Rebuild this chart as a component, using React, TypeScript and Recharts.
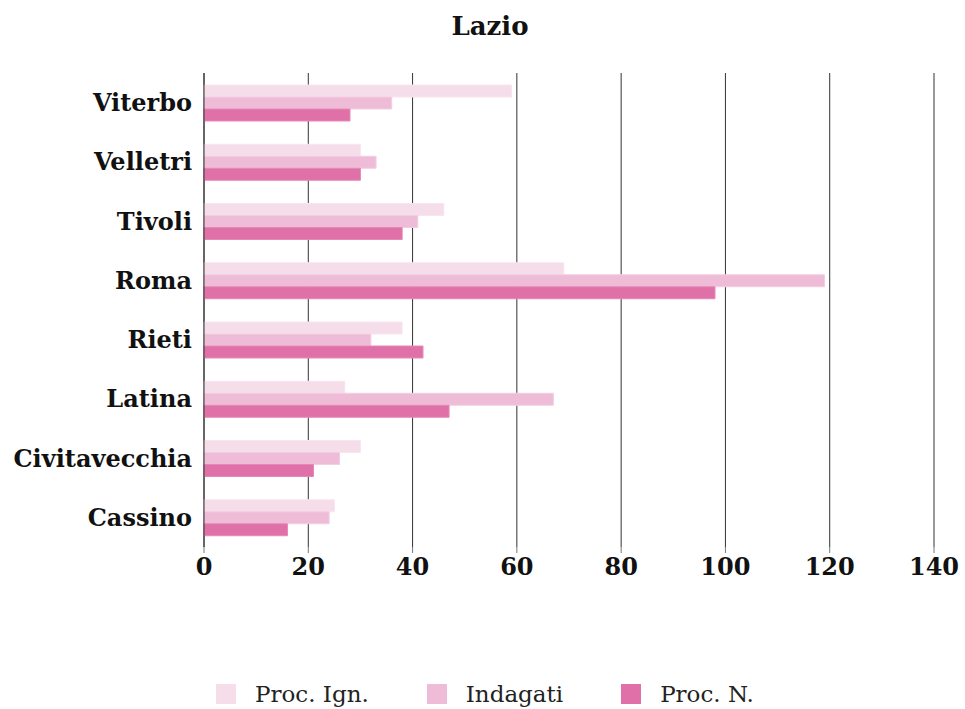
import React from "react";
import {
  BarChart,
  Bar,
  XAxis,
  YAxis,
  CartesianGrid,
  Legend,
} from "recharts";

const cities = [
  "Viterbo",
  "Velletri",
  "Tivoli",
  "Roma",
  "Rieti",
  "Latina",
  "Civitavecchia",
  "Cassino",
];
const procIgn = [59, 30, 46, 69, 38, 27, 30, 25];
const indagati = [36, 33, 41, 119, 32, 67, 26, 24];
const procN = [28, 30, 38, 98, 42, 47, 21, 16];
const xTicks = [0, 20, 40, 60, 80, 100, 120, 140];

const seriesNames = ["Proc. Ign.", "Indagati", "Proc. N."];
const seriesColors = ["#f5dde9", "#efbcd8", "#df70a8"];

const data = cities.map((name, i) => ({
  name,
  procIgn: procIgn[i],
  indagati: indagati[i],
  procN: procN[i],
}));

const FONT = "'DejaVu Serif', serif";

function LegendBox() {
  return (
    <div
      style={{
        display: "flex",
        justifyContent: "flex-start",
        paddingLeft: 212,
        height: 30,
        alignItems: "center",
        fontFamily: FONT,
        fontSize: 23,
        color: "#222",
      }}
    >
      {seriesNames.map((n, i) => (
        <div
          key={n}
          style={{ display: "flex", alignItems: "center", marginRight: 58 }}
        >
          <span
            style={{
              display: "inline-block",
              width: 20,
              height: 20,
              background: seriesColors[i],
              marginRight: 19,
            }}
          />
          <span>{n}</span>
        </div>
      ))}
    </div>
  );
}

export default function App() {
  return (
    <div
      style={{
        position: "absolute",
        top: 0,
        left: 0,
        width: 965,
        height: 709,
        background: "#fff",
        fontFamily: FONT,
      }}
    >
      <div
        style={{
          position: "absolute",
          top: 11,
          left: 0,
          width: 980,
          textAlign: "center",
          fontWeight: "bold",
          fontSize: 26,
          color: "#111",
        }}
      >
        Lazio
      </div>
      <BarChart
        width={965}
        height={709}
        data={data}
        layout="vertical"
        margin={{ top: 73, right: 31, left: 4, bottom: 0 }}
        barGap={0}
        barSize={12}
      >
        <CartesianGrid horizontal={false} stroke="#333" strokeWidth={1} />
        <XAxis
          type="number"
          domain={[0, 140]}
          ticks={xTicks}
          axisLine={false}
          tickLine={{ stroke: "#777" }}
          tickSize={6}
          height={132}
          tick={{
            fontFamily: FONT,
            fontWeight: "bold",
            fontSize: 24,
            fill: "#111",
            dy: 3,
          }}
        />
        <YAxis
          type="category"
          dataKey="name"
          width={200}
          axisLine={{ stroke: "#333" }}
          tickLine={false}
          tick={{
            fontFamily: FONT,
            fontWeight: "bold",
            fontSize: 24,
            fill: "#111",
            dx: -4,
          }}
        />
        <Legend
          verticalAlign="bottom"
          height={30}
          content={() => <LegendBox />}
        />
        <Bar
          dataKey="procIgn"
          name={seriesNames[0]}
          fill={seriesColors[0]}
          stroke="#f8e6ef"
          isAnimationActive={false}
        />
        <Bar
          dataKey="indagati"
          name={seriesNames[1]}
          fill={seriesColors[1]}
          stroke="#f3cde2"
          isAnimationActive={false}
        />
        <Bar
          dataKey="procN"
          name={seriesNames[2]}
          fill={seriesColors[2]}
          stroke="#e688b7"
          isAnimationActive={false}
        />
      </BarChart>
    </div>
  );
}
